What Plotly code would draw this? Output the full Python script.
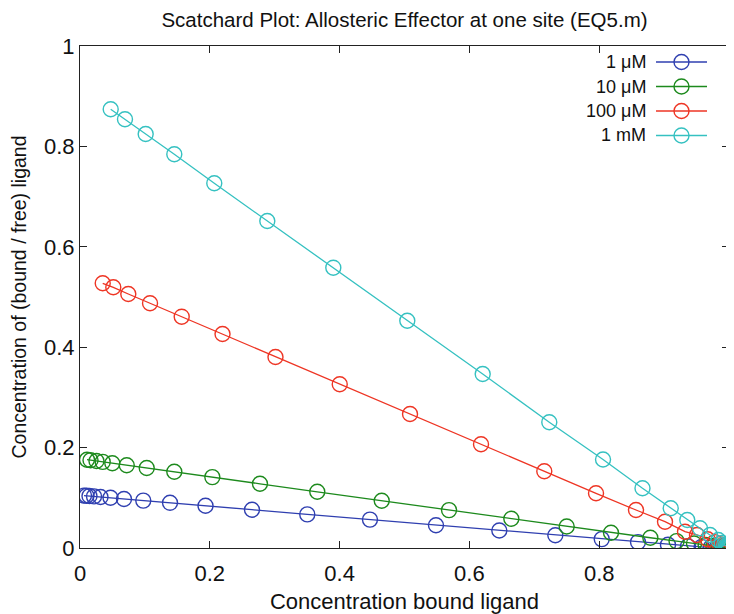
import plotly.graph_objects as go

# ---- data ----
series_names = ["1 μM", "10 μM", "100 μM", "1 mM"]
series_colors = ["#2f3fb0", "#1d8a1d", "#ee3524", "#35c1c1"]

x_1uM = [0.0062, 0.0100, 0.0146, 0.0216, 0.0316, 0.0470, 0.0678, 0.0975, 0.1387, 0.1934,
         0.2650, 0.3502, 0.4468, 0.5485, 0.6461, 0.7324, 0.8039, 0.8598, 0.9060, 0.9368,
         0.9580, 0.9720, 0.9813, 0.9875, 0.9917, 0.9945, 0.9963]
y_1uM = [0.1044, 0.1040, 0.1035, 0.1028, 0.1016, 0.1000, 0.0976, 0.0944, 0.0900, 0.0841,
         0.0763, 0.0669, 0.0566, 0.0454, 0.0349, 0.0255, 0.0177, 0.0118, 0.0066, 0.0034,
         0.0022, 0.0015, 0.0010, 0.0007, 0.0005, 0.0003, 0.0002]

x_10uM = [0.0108, 0.0162, 0.0254, 0.0350, 0.0498, 0.0720, 0.1028, 0.1453, 0.2039, 0.2773,
          0.3656, 0.4649, 0.5686, 0.6646, 0.7499, 0.8182, 0.8788, 0.9192, 0.9461, 0.9641,
          0.9761, 0.9840, 0.9894, 0.9929, 0.9953, 0.9968, 0.9979]
y_10uM = [0.1759, 0.1749, 0.1733, 0.1715, 0.1689, 0.1649, 0.1594, 0.1518, 0.1412, 0.1279,
          0.1120, 0.0940, 0.0755, 0.0582, 0.0428, 0.0305, 0.0204, 0.0136, 0.0091, 0.0060,
          0.0040, 0.0027, 0.0018, 0.0012, 0.0008, 0.0005, 0.0004]

x_100uM = [0.0350, 0.0513, 0.0744, 0.1079, 0.1567, 0.2196, 0.3012, 0.4002, 0.5085, 0.6179,
           0.7154, 0.7951, 0.8567, 0.9014, 0.9322, 0.9507, 0.9670, 0.9780, 0.9854, 0.9903,
           0.9935, 0.9957, 0.9971, 0.9981, 0.9987, 0.9991, 0.9994]
y_100uM = [0.5273, 0.5193, 0.5060, 0.4875, 0.4608, 0.4263, 0.3805, 0.3261, 0.2669, 0.2066,
           0.1528, 0.1090, 0.0757, 0.0524, 0.0325, 0.0260, 0.0175, 0.0117, 0.0077, 0.0051,
           0.0034, 0.0023, 0.0015, 0.0010, 0.0007, 0.0005, 0.0003]

x_1mM = [0.0473, 0.0693, 0.1012, 0.1453, 0.2069, 0.2886, 0.3903, 0.5043, 0.6205, 0.7231,
         0.8059, 0.8667, 0.9102, 0.9357, 0.9553, 0.9707, 0.9835, 0.9889, 0.9926, 0.9951,
         0.9967, 0.9978, 0.9985, 0.9990, 0.9993, 0.9996, 0.9997]
y_1mM = [0.8739, 0.8540, 0.8247, 0.7843, 0.7265, 0.6514, 0.5584, 0.4528, 0.3466, 0.2504,
         0.1763, 0.1189, 0.0791, 0.0558, 0.0392, 0.0259, 0.0159, 0.0101, 0.0067, 0.0045,
         0.0030, 0.0020, 0.0014, 0.0009, 0.0006, 0.0004, 0.0003]

tick_vals = [0, 0.2, 0.4, 0.6, 0.8, 1]
tick_text = ["0", "0.2", "0.4", "0.6", "0.8", "1"]

title_text = "Scatchard Plot: Allosteric Effector at one site (EQ5.m)"
x_title = "Concentration bound ligand"
y_title = "Concentration of (bound / free) ligand"

xs = [x_1uM, x_10uM, x_100uM, x_1mM]
ys = [y_1uM, y_10uM, y_100uM, y_1mM]

FONT = "Liberation Sans, Arial, Helvetica, sans-serif"
# the page body adds an 8px offset, so the figure is 8px smaller than the window
W, H = 726, 606
ML, MR, MT, MB = 72, 5, 38, 66
PW, PH = W - ML - MR, H - MT - MB

fig = go.Figure()
for name, col, xv, yv in zip(series_names, series_colors, xs, ys):
    fig.add_trace(go.Scatter(
        x=xv, y=yv, mode="lines+markers", name=name,
        line=dict(color=col, width=1.3),
        marker=dict(symbol="circle-open", size=15, color=col, line=dict(color=col, width=1.4)),
        showlegend=False,
    ))

# custom legend (text left of sample, like the reference); positions in window px
OX, OY = 8, 8
leg_rows_px = [62, 86.5, 111, 135.5]
text_right_px = 648
line_x0_px, line_x1_px, mark_px = 656, 707, 681.5
shapes = []
annotations = []


def px2x(p):
    return (p - OX - ML) / PW


for name, col, rpx in zip(series_names, series_colors, leg_rows_px):
    py = (H - MB - (rpx - OY)) / PH
    annotations.append(dict(
        x=px2x(text_right_px), y=py, xref="paper", yref="paper",
        text=name, showarrow=False, xanchor="right", yanchor="middle",
        font=dict(family=FONT, size=18, color="#111"),
    ))
    shapes.append(dict(type="line", xref="paper", yref="paper",
                       x0=px2x(line_x0_px), x1=px2x(line_x1_px), y0=py, y1=py,
                       line=dict(color=col, width=1.3)))
    shapes.append(dict(type="circle", xref="paper", yref="paper",
                       xsizemode="pixel", ysizemode="pixel",
                       xanchor=px2x(mark_px), yanchor=py,
                       x0=-7.5, x1=7.5, y0=-7.5, y1=7.5,
                       line=dict(color=col, width=1.4)))

axis_common = dict(
    range=[0, 1], tickmode="array", tickvals=tick_vals, ticktext=tick_text,
    ticks="inside", ticklen=7, tickwidth=1, tickcolor="#222",
    showline=True, linecolor="#222", linewidth=1, mirror="ticks",
    showgrid=False, zeroline=False, automargin=False,
    tickfont=dict(family=FONT, size=22, color="#111"),
)

fig.update_layout(
    width=W, height=H,
    margin=dict(l=ML, r=MR, t=MT, b=MB, autoexpand=False),
    paper_bgcolor="white", plot_bgcolor="white",
    title=dict(text=title_text, x=(ML + PW / 2) / W, xanchor="center",
               y=1 - (20 - OY) / H, yanchor="middle",
               font=dict(family=FONT, size=20.5, color="#111")),
    xaxis=dict(axis_common, ticklabelstandoff=6,
               title=dict(text=x_title, standoff=8,
                          font=dict(family=FONT, size=22, color="#111"))),
    yaxis=dict(axis_common,
               title=dict(text=y_title, standoff=12,
                          font=dict(family=FONT, size=19.5, color="#111"))),
    shapes=shapes, annotations=annotations,
    showlegend=False,
)

fig.write_html("out.html")
